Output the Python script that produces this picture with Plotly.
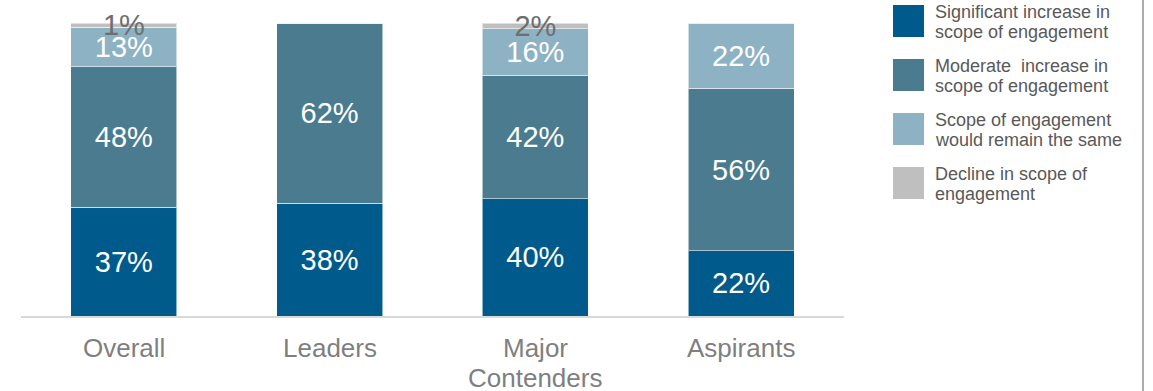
import plotly.graph_objects as go

# ---- data ----
categories = ["Overall", "Leaders", "Major Contenders", "Aspirants"]
tick_labels = ["Overall", "Leaders", "Major<br>Contenders", "Aspirants"]

series_names = [
    "Significant increase in<br>scope of engagement",
    "Moderate  increase in<br>scope of engagement",
    "Scope of engagement<br>would remain the same",
    "Decline in scope of<br>engagement",
]
significant = [37.2, 38.5, 40.0, 22.2]
moderate = [47.9, 61.5, 42.2, 55.5]
same = [13.4, 0.0, 15.8, 22.3]
decline = [1.5, 0.0, 2.0, 0.0]

significant_labels = ["37%", "38%", "40%", "22%"]
moderate_labels = ["48%", "62%", "42%", "56%"]
same_labels = ["13%", "", "16%", "22%"]
decline_labels = ["1%", "", "2%", ""]

colors = ["#005A8C", "#4B7B8F", "#8DB2C3", "#BFBFBF"]
label_colors = ["#FFFFFF", "#FFFFFF", "#FFFFFF", "#6E6E6E"]

FONT = "Liberation Sans, Arial, sans-serif"

# ---- layout geometry (pixels) ----
W, H = 1153, 391
L, R_EDGE, T, B_EDGE = 21, 844, 23, 316
PW, PH = R_EDGE - L, B_EDGE - T


def px_x(p):
    return (p - L) / PW


def px_y(p):
    return (B_EDGE - p) / PH


fig = go.Figure()
values = [significant, moderate, same, decline]
labels = [significant_labels, moderate_labels, same_labels, decline_labels]
for name, vals, labs, col, lcol in zip(series_names, values, labels, colors, label_colors):
    fig.add_trace(go.Bar(
        x=categories,
        y=vals,
        name=name.replace("<br>", " "),
        marker=dict(color=col, line=dict(color="rgba(255,255,255,0.55)", width=1)),
        text=labs,
        textposition="inside",
        insidetextanchor="middle",
        textangle=0,
        constraintext="none",
        cliponaxis=False,
        textfont=dict(family=FONT, size=29, color=lcol),
        hoverinfo="skip",
    ))

fig.update_layout(
    barmode="stack",
    bargap=0.485,
    width=W,
    height=H,
    margin=dict(l=L, r=W - R_EDGE, t=T, b=H - B_EDGE, pad=0),
    paper_bgcolor="white",
    plot_bgcolor="white",
    showlegend=False,
    font=dict(family=FONT),
    uniformtext=dict(mode=False),
)
fig.update_xaxes(
    categoryorder="array",
    categoryarray=categories,
    showticklabels=False,
    showline=True,
    linecolor="#D9D9D9",
    linewidth=2,
    ticks="",
    automargin=False,
    showgrid=False,
    zeroline=False,
)
fig.update_yaxes(
    range=[0, 100],
    visible=False,
    showgrid=False,
    zeroline=False,
    automargin=False,
)

shapes = []
annotations = []

# ---- category labels (tighter line spacing than plotly ticks allow) ----
for cat, tl in zip(categories, tick_labels):
    for j, line in enumerate(tl.split("<br>")):
        annotations.append(dict(
            xref="x", yref="paper",
            x=cat, y=px_y(348 + 30 * j),
            text=line, showarrow=False,
            xanchor="center", yanchor="middle",
            font=dict(family=FONT, size=26, color="#7F7F7F"),
        ))

# ---- custom legend ----
for i, (name, col) in enumerate(zip(series_names, colors)):
    top = 5 + 54 * i
    shapes.append(dict(
        type="rect", xref="paper", yref="paper",
        x0=px_x(893), x1=px_x(924), y0=px_y(top + 32), y1=px_y(top),
        fillcolor=col, line=dict(width=0),
    ))
    for j, line in enumerate(name.split("<br>")):
        annotations.append(dict(
            xref="paper", yref="paper",
            x=px_x(933), y=px_y(top + 7 + 20 * j),
            text=line, showarrow=False,
            xanchor="left", yanchor="middle",
            font=dict(family=FONT, size=18, color="#595959"),
        ))

# right border line
shapes.append(dict(
    type="line", xref="paper", yref="paper",
    x0=px_x(1143), x1=px_x(1143), y0=px_y(H), y1=px_y(0),
    line=dict(color="#ADADAD", width=2),
))

fig.update_layout(shapes=shapes, annotations=annotations)

fig.write_html("out.html")
